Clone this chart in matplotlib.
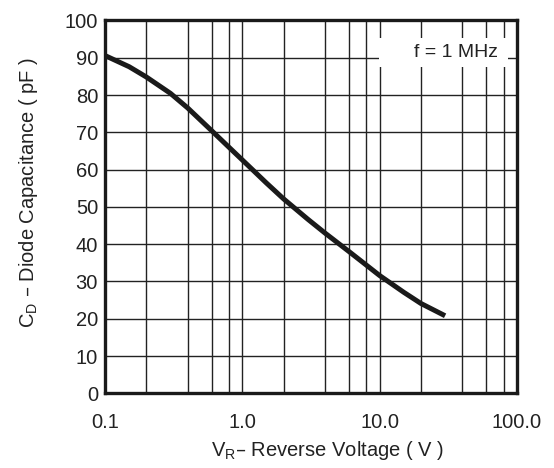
import numpy as np
import matplotlib.pyplot as plt
from matplotlib.patches import Rectangle

plt.rcParams['font.family'] = ['Liberation Sans', 'DejaVu Sans']

# data
vr = [0.1, 0.15, 0.2, 0.3, 0.4, 0.6, 0.8, 1.0, 1.5, 2.0, 3.0, 4.0, 6.0, 8.0, 10.0, 15.0, 20.0, 30.0]
cd = [90.6, 87.6, 84.85, 80.45, 76.55, 70.4, 66.0, 62.6, 56.4, 52.15, 46.7, 43.0, 38.0, 34.4, 31.6, 27.1, 24.1, 20.8]

xticks = [0.1, 1.0, 10.0, 100.0]
xticklabels = ['0.1', '1.0', '10.0', '100.0']
xgrid = [0.2, 0.4, 0.6, 0.8, 2, 4, 6, 8, 20, 40, 60, 80]
yticks = np.arange(0, 101, 10)

fig = plt.figure(figsize=(5.54, 4.68), dpi=100)
ax = fig.add_axes([0.1895, 0.1596, 0.7435, 0.7966])

ax.set_xscale('log')
ax.set_xlim(0.1, 100)
ax.set_ylim(0, 100)

# grid
for g in xgrid + xticks:
    ax.axvline(g, color='#222222', lw=1.0, zorder=1)
for g in yticks:
    ax.axhline(g, color='#222222', lw=1.0, zorder=1)

ax.plot(vr, cd, color='#1a1a1a', lw=3.6, solid_capstyle='butt', zorder=3)

ax.set_xticks(xticks)
ax.set_xticklabels(xticklabels)
ax.set_xticks([], minor=True)
ax.set_yticks(yticks)
ax.tick_params(axis='both', length=0, labelsize=14.5, colors='#222222')
ax.tick_params(axis='x', pad=14)
ax.tick_params(axis='y', pad=5)

for s in ax.spines.values():
    s.set_linewidth(2.4)
    s.set_color('#1a1a1a')
    s.set_zorder(4)

ax.add_patch(Rectangle((0.665, 0.875), 0.313, 0.078, transform=ax.transAxes,
                       facecolor='white', edgecolor='none', zorder=2))
ax.text(0.853, 0.913, 'f = 1 MHz', transform=ax.transAxes, ha='center', va='center',
        fontsize=14, color='#222222', zorder=5)

ax.set_xlabel(r'V$_\mathregular{R}$– Reverse Voltage ( V )', fontsize=14.5, color='#222222', labelpad=5)
ax.set_ylabel(r'C$_\mathregular{D}$ – Diode Capacitance ( pF )', fontsize=14.5, color='#222222', labelpad=18)
ax.xaxis.label.set_x(0.54)
ax.yaxis.label.set_y(0.54)

plt.savefig('out.png', dpi=100)
